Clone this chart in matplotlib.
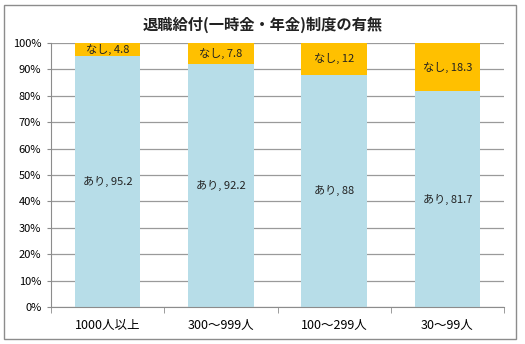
import matplotlib
matplotlib.use('Agg')
import matplotlib.pyplot as plt
from matplotlib.patches import Rectangle
from matplotlib.ticker import PercentFormatter, MultipleLocator

plt.rcParams['font.family'] = ['Noto Sans CJK JP', 'DejaVu Sans']

categories = ['1000人以上', '300～999人', '100～299人', '30～99人']
ari = [95.2, 92.2, 88, 81.7]
nashi = [4.8, 7.8, 12, 18.3]

fig = plt.figure(figsize=(5.25, 3.44), dpi=100)
fig.patches.append(Rectangle((4 / 525, 5 / 344), 512 / 525, 334 / 344,
                             transform=fig.transFigure, fill=False,
                             edgecolor='#8c8c8c', linewidth=1))

ax = fig.add_axes([51 / 525, 37 / 344, 453 / 525, 264 / 344])
x = range(len(categories))
ax.bar(x, ari, width=0.58, color='#B7DDE8', zorder=2)
ax.bar(x, nashi, width=0.58, bottom=ari, color='#FFC000', zorder=2)

for i in x:
    ax.text(i, ari[i] / 2, f'あり, {ari[i]:g}', ha='center', va='center',
            fontsize=8, color='#222222', zorder=3)
    ax.text(i, ari[i] + nashi[i] / 2, f'なし, {nashi[i]:g}', ha='center',
            va='center', fontsize=8, color='#222222', zorder=3)

ax.set_xlim(-0.5, len(categories) - 0.5)
ax.set_ylim(0, 100)
ax.yaxis.set_major_locator(MultipleLocator(10))
ax.yaxis.set_major_formatter(PercentFormatter(decimals=0))
ax.grid(axis='y', color='#9a9a9a', linewidth=0.9, zorder=0)
ax.set_xticks(list(x))
ax.set_xticklabels(categories, fontsize=9)
ax.set_xticks([i + 0.5 for i in range(-1, len(categories))], minor=True)
ax.tick_params(axis='x', which='major', length=0, pad=9)
ax.tick_params(axis='x', which='minor', length=4, color='#8c8c8c', direction='out')
ax.tick_params(axis='y', labelsize=8, length=3, color='#8c8c8c', pad=4)
for s in ['top', 'right']:
    ax.spines[s].set_visible(False)
for s in ['left', 'bottom']:
    ax.spines[s].set_color('#8c8c8c')

fig.text(0.5, 1 - 25 / 344, '退職給付(一時金・年金)制度の有無', ha='center',
         va='center', fontsize=11, fontweight='bold', color='#222222')

fig.savefig('out.png', dpi=100)
